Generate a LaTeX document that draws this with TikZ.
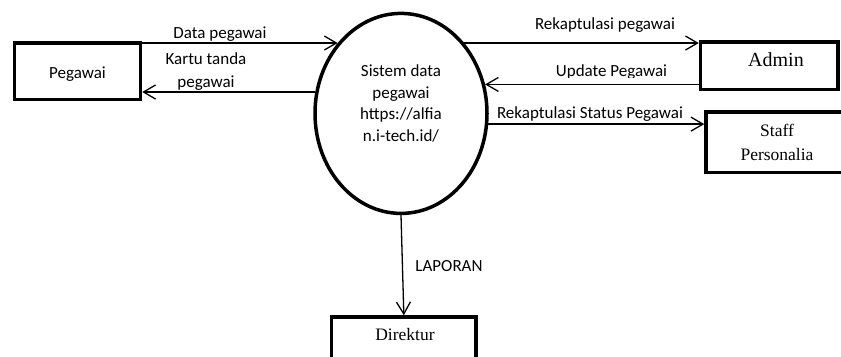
\documentclass[tikz,border=0pt]{standalone}
\usepackage{fontspec}
\setmainfont{Carlito}
\newfontfamily\timesf{Liberation Serif}
\usetikzlibrary{arrows.meta,shapes.geometric}
\begin{document}
\begin{tikzpicture}[x=1bp,y=-1bp,
  box/.style={draw, line width=3.5bp, rectangle, inner sep=0pt},
  flow/.style={line width=1.3bp, -{Straight Barb[length=12bp,width=14bp]}},
  lbl/.style={font=\fontsize{17bp}{21.5bp}\selectfont, inner sep=0pt, anchor=base},
  serif/.style={font=\timesf\fontsize{17.5bp}{24bp}\selectfont, inner sep=0pt, anchor=base}]
\useasboundingbox (0,0) rectangle (841,356);
\clip (0,0) rectangle (841,356);
% nodes
\node[box, minimum width=125.8bp, minimum height=56.5bp] (peg) at (77.6,71.2) {};
\node[lbl] (pegt) at (77.5,78.3) {Pegawai};
\node[draw, ellipse, line width=3.5bp, inner sep=0pt, minimum width=172bp, minimum height=200bp] (sys) at (401,113.4) {};
\node[lbl, align=center] (syst) at (401,141) {Sistem data\\pegawai\\https://alfia\\n.i-tech.id/};
\node[box, minimum width=137.5bp, minimum height=47.5bp] (admin) at (769.25,65.75) {};
\node[serif, font=\timesf\fontsize{20bp}{24bp}\selectfont] (admint) at (776,66.7) {Admin};
\node[box, minimum width=144bp, minimum height=60.5bp] (staff) at (778,142.25) {};
\node[serif, align=center] (stafft) at (777,160.7) {Staff\\Personalia};
\node[box, minimum width=144.3bp, minimum height=63bp] (dir) at (403.85,348.5) {};
\node[serif] (dirt) at (405,340.7) {Direktur};
% connectors
\draw[flow] (sys.132 -| peg.east) -- (sys.132);
\draw[flow] (sys.166.65) -- (sys.166.65 -| peg.east);
\draw[flow] (sys.48) -- (sys.48 -| admin.west);
\draw[flow] (sys.19.3 -| admin.west) -- (sys.19.3);
\draw[flow] (sys.-7.6) -- (sys.-7.6 -| staff.west);
\draw[flow] (sys.south) -- (dir.north);
% labels
\node[lbl] (l1) at (220,38.5) {Data pegawai};
\node[lbl, align=center, font=\fontsize{17bp}{23bp}\selectfont] (l2) at (206,87) {Kartu tanda\\pegawai};
\begin{scope}
\clip (500,0) rectangle (700,31);
\node[lbl] (l3) at (605,29.5) {Rekaptulasi pegawai};
\end{scope}
\begin{scope}
\clip (500,50) rectangle (690,77.5);
\node[lbl] (l4) at (611.5,76) {Update Pegawai};
\end{scope}
\begin{scope}
\clip (480,95) rectangle (700,120.5);
\node[lbl] (l5) at (590,118.7) {Rekaptulasi Status Pegawai};
\end{scope}
\node[lbl] (l6) at (449,271) {LAPORAN};
\end{tikzpicture}
\end{document}
